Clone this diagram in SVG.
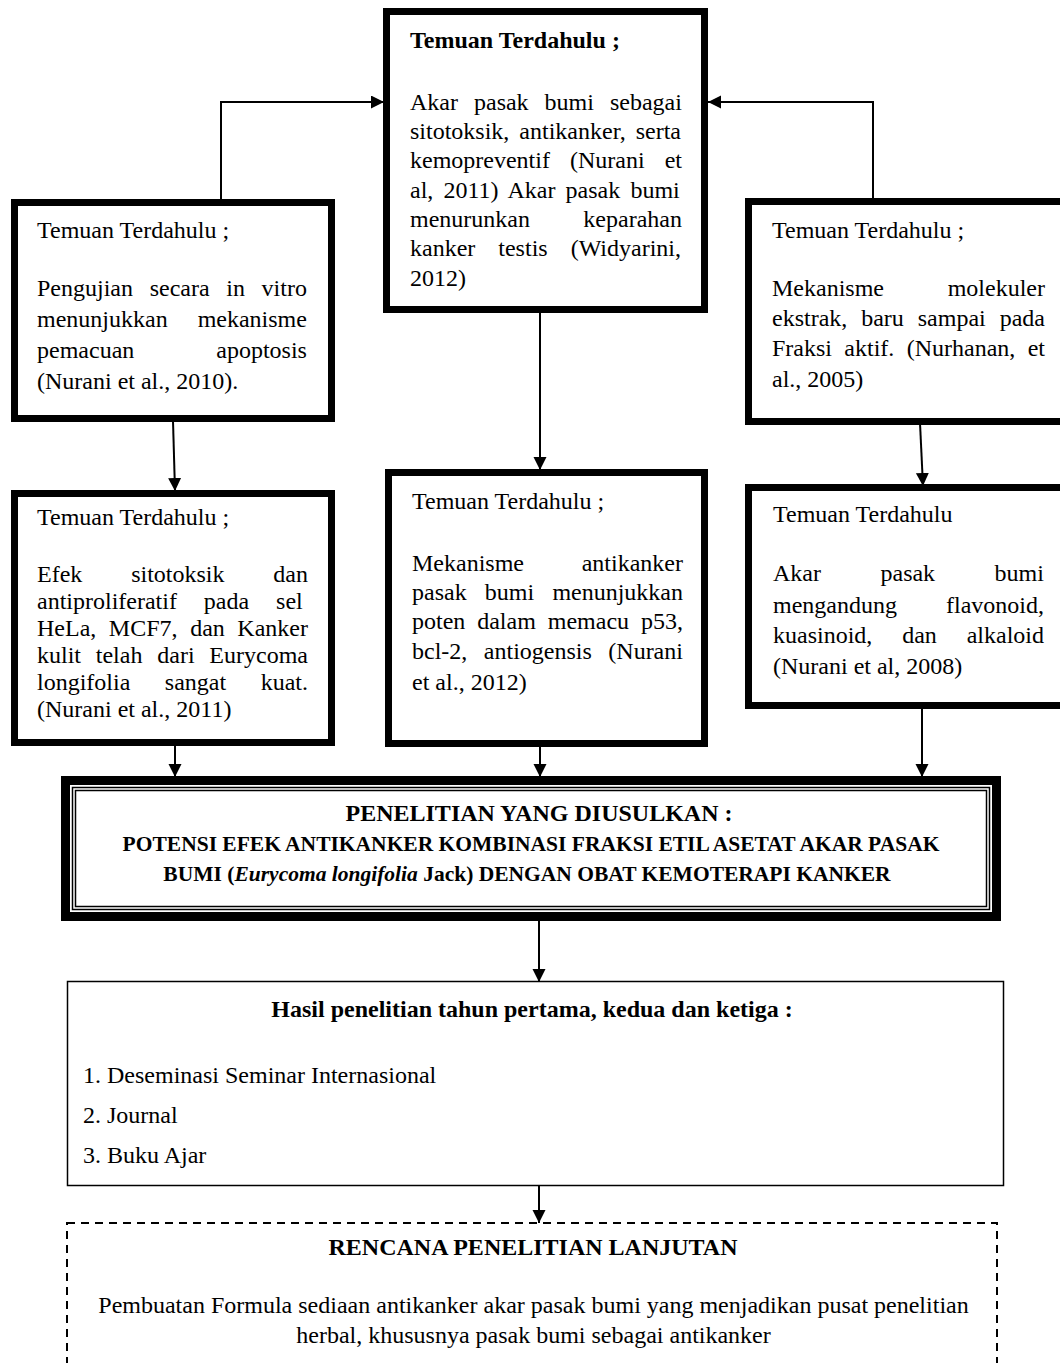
<svg xmlns="http://www.w3.org/2000/svg" width="1060" height="1363" viewBox="0 0 1060 1363">
<defs>
<style>
.box{fill:#fff;stroke:#000;stroke-width:7}
.thin{fill:none;stroke:#000;stroke-width:1.5}
.t{font-family:"Liberation Serif","Times New Roman",serif;font-size:24px;fill:#000}
.b{font-weight:bold}
.p{font-size:21.5px}
.c{text-anchor:middle}
.conn{stroke:#000;stroke-width:2;fill:none}
</style>
<marker id="ah" markerUnits="userSpaceOnUse" markerWidth="14" markerHeight="14" refX="13" refY="6.5" orient="auto">
<path d="M0,0 L13,6.5 L0,13 Z" fill="#000"/>
</marker>
</defs>
<rect width="1060" height="1363" fill="#fff"/>

<g id="connectors">
<polyline class="conn" points="221,202 221,102 384,102" marker-end="url(#ah)"/>
<polyline class="conn" points="873,202 873,102 708,102" marker-end="url(#ah)"/>
<line class="conn" x1="540" y1="312" x2="540" y2="470" marker-end="url(#ah)"/>
<line class="conn" x1="173" y1="421" x2="175" y2="491" marker-end="url(#ah)"/>
<line class="conn" x1="920" y1="423" x2="923" y2="486" marker-end="url(#ah)"/>
<line class="conn" x1="175" y1="745" x2="175" y2="777" marker-end="url(#ah)"/>
<line class="conn" x1="540" y1="746" x2="540" y2="777" marker-end="url(#ah)"/>
<line class="conn" x1="922" y1="708" x2="922" y2="777" marker-end="url(#ah)"/>
<line class="conn" x1="539" y1="921" x2="539" y2="982" marker-end="url(#ah)"/>
<line class="conn" x1="539" y1="1186" x2="539" y2="1223" marker-end="url(#ah)"/>
</g>

<g id="node-top">
<rect class="box" x="386.5" y="11.5" width="318" height="298"/>
<text class="t b" x="410" y="48">Temuan Terdahulu ;</text>
<text class="t" x="410" y="110" word-spacing="10">Akar pasak bumi sebagai</text>
<text class="t" x="410" y="139" word-spacing="4">sitotoksik, antikanker, serta</text>
<text class="t" x="410" y="168" word-spacing="14.05">kemopreventif (Nurani et</text>
<text class="t" x="410" y="198" word-spacing="4.18">al, 2011) Akar pasak bumi</text>
<text class="t" x="410" y="227" word-spacing="47.4">menurunkan keparahan</text>
<text class="t" x="410" y="256" word-spacing="17">kanker testis (Widyarini,</text>
<text class="t" x="410" y="286">2012)</text>
</g>

<g id="node-left-top">
<rect class="box" x="14.5" y="202.5" width="317" height="216"/>
<text class="t" x="37" y="238">Temuan Terdahulu ;</text>
<text class="t" x="37" y="296" word-spacing="10.67">Pengujian secara in vitro</text>
<text class="t" x="37" y="327" word-spacing="24">menunjukkan mekanisme</text>
<text class="t" x="37" y="358" word-spacing="76">pemacuan apoptosis</text>
<text class="t" x="37" y="389">(Nurani et al., 2010).</text>
</g>

<g id="node-right-top">
<rect class="box" x="748.5" y="201.5" width="330" height="220"/>
<text class="t" x="772" y="238">Temuan Terdahulu ;</text>
<text class="t" x="772" y="296" word-spacing="57.7">Mekanisme molekuler</text>
<text class="t" x="772" y="326" word-spacing="7.9">ekstrak, baru sampai pada</text>
<text class="t" x="772" y="356" word-spacing="6.37">Fraksi aktif. (Nurhanan, et</text>
<text class="t" x="772" y="387">al., 2005)</text>
</g>

<g id="node-left-bottom">
<rect class="box" x="14.5" y="493.5" width="317" height="249"/>
<text class="t" x="37" y="525">Temuan Terdahulu ;</text>
<text class="t" x="37" y="582" word-spacing="42.85">Efek sitotoksik dan</text>
<text class="t" x="37" y="609" word-spacing="20.9">antiproliferatif pada sel</text>
<text class="t" x="37" y="636" word-spacing="6.57">HeLa, MCF7, dan Kanker</text>
<text class="t" x="37" y="663" word-spacing="8.8">kulit telah dari Eurycoma</text>
<text class="t" x="37" y="690" word-spacing="28.5">longifolia sangat kuat.</text>
<text class="t" x="37" y="717">(Nurani et al., 2011)</text>
</g>

<g id="node-mid-bottom">
<rect class="box" x="388.5" y="472.5" width="316" height="271"/>
<text class="t" x="412" y="509">Temuan Terdahulu ;</text>
<text class="t" x="412" y="571" word-spacing="51.7">Mekanisme antikanker</text>
<text class="t" x="412" y="600" word-spacing="12.2">pasak bumi menunjukkan</text>
<text class="t" x="412" y="629" word-spacing="5.9">poten dalam memacu p53,</text>
<text class="t" x="412" y="659" word-spacing="10.5">bcl-2, antiogensis (Nurani</text>
<text class="t" x="412" y="690">et al., 2012)</text>
</g>

<g id="node-right-bottom">
<rect class="box" x="748.5" y="487.5" width="330" height="218"/>
<text class="t" x="773" y="522">Temuan Terdahulu</text>
<text class="t" x="773" y="581" word-spacing="53.5">Akar pasak bumi</text>
<text class="t" x="773" y="613" word-spacing="43">mengandung flavonoid,</text>
<text class="t" x="773" y="643" word-spacing="23.85">kuasinoid, dan alkaloid</text>
<text class="t" x="773" y="674">(Nurani et al, 2008)</text>
</g>

<g id="node-proposal">
<rect x="65.5" y="780.5" width="931" height="136" fill="#fff" stroke="#000" stroke-width="9"/>
<rect class="thin" x="72.5" y="787.5" width="917" height="122"/>
<rect class="thin" x="75.5" y="790.5" width="911" height="116"/>
<text class="t b c" x="539" y="821" font-size="21">PENELITIAN YANG DIUSULKAN :</text>
<text class="t b c p" x="531" y="851">POTENSI EFEK ANTIKANKER KOMBINASI FRAKSI ETIL ASETAT AKAR PASAK</text>
<text class="t b c p" x="527" y="881">BUMI (<tspan font-style="italic">Eurycoma longifolia</tspan> Jack) DENGAN OBAT KEMOTERAPI KANKER</text>
</g>

<g id="node-results">
<rect x="67.5" y="981.5" width="936" height="204" fill="#fff" stroke="#000" stroke-width="1.5"/>
<text class="t b c" x="532" y="1017">Hasil penelitian tahun pertama, kedua dan ketiga :</text>
<text class="t" x="83" y="1083">1. Deseminasi Seminar Internasional</text>
<text class="t" x="83" y="1123">2. Journal</text>
<text class="t" x="83" y="1163">3. Buku Ajar</text>
</g>

<g id="node-plan">
<rect x="67" y="1223" width="930" height="170" fill="#fff" stroke="#000" stroke-width="2" stroke-dasharray="8,6"/>
<text class="t b c" x="533" y="1255">RENCANA PENELITIAN LANJUTAN</text>
<text class="t c" x="533.5" y="1313">Pembuatan Formula sediaan antikanker akar pasak bumi yang menjadikan pusat penelitian</text>
<text class="t c" x="533.5" y="1343">herbal, khususnya pasak bumi sebagai antikanker</text>
</g>
</svg>
